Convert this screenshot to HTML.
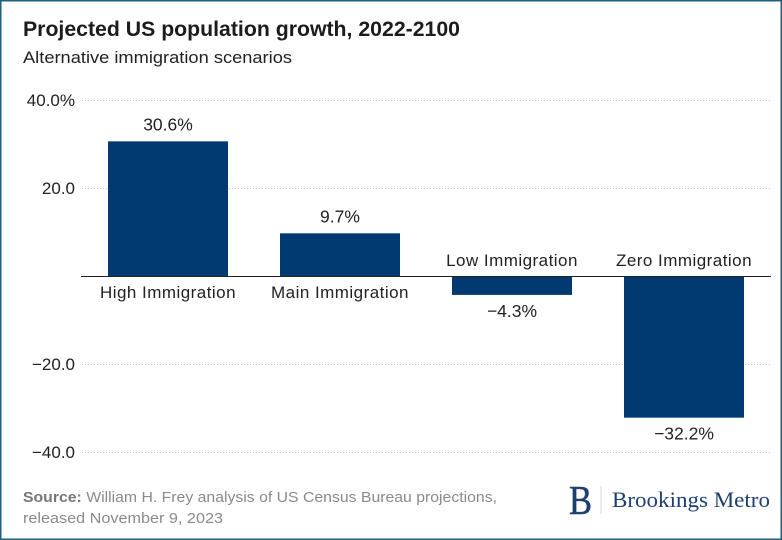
<!DOCTYPE html>
<html lang="en">
<head>
<meta charset="utf-8">
<title>Projected US population growth, 2022-2100</title>
<style>
html,body{margin:0;padding:0;background:#fff}
svg{display:block}
text{font-family:"Liberation Sans",sans-serif}
</style>
</head>
<body>
<svg id="chart" xmlns="http://www.w3.org/2000/svg" width="782" height="540" viewBox="0 0 782 540">
  <rect x="0.75" y="0.75" width="780.5" height="538.5" fill="#fff" stroke="#1f6080" stroke-width="1.5"/>
  <text x="23" y="36" font-size="21" font-weight="700" fill="#1c1c1c" textLength="437" lengthAdjust="spacingAndGlyphs">Projected US population growth, 2022-2100</text>
  <text x="23" y="63" font-size="17" fill="#222" textLength="269" lengthAdjust="spacingAndGlyphs">Alternative immigration scenarios</text>
  <g id="grid"></g>
  <g id="bars"></g>
  <line x1="81" x2="771" y1="276.5" y2="276.5" stroke="#222" stroke-width="1"/>
  <g id="labels"></g>
  <text x="23" y="502" font-size="15" fill="#8a8a8a" textLength="474" lengthAdjust="spacingAndGlyphs"><tspan font-weight="700" fill="#777">Source:</tspan> William H. Frey analysis of US Census Bureau projections,</text>
  <text x="23" y="523" font-size="15" fill="#8a8a8a" textLength="200" lengthAdjust="spacingAndGlyphs">released November 9, 2023</text>
  <text x="569" y="514" font-size="41" fill="#1e3f70" stroke="#1e3f70" stroke-width="0.5" style="font-family:'Liberation Serif',serif" textLength="23" lengthAdjust="spacingAndGlyphs">B</text>
  <line x1="601" x2="601" y1="486" y2="514" stroke="#cfd6e0" stroke-width="1"/>
  <text x="612" y="507" font-size="22" fill="#1e3f70" style="font-family:'Liberation Serif',serif" textLength="158" lengthAdjust="spacingAndGlyphs">Brookings Metro</text>
</svg>
<script>
var categories = ["High Immigration", "Main Immigration", "Low Immigration", "Zero Immigration"];
var seriesValues = [30.6, 9.7, -4.3, -32.2];
var valueLabels = ["30.6%", "9.7%", "\u22124.3%", "\u221232.2%"];
var tickValues = [40, 20, -20, -40];
var tickLabels = ["40.0%", "20.0", "\u221220.0", "\u221240.0"];

var NS = "http://www.w3.org/2000/svg";
function yScale(v) { return 276 - v * 4.4; }
function xScale(i) { return 108 + i * 172; }
var BAR_W = 120;

function makeText(str, x, y, anchor, size) {
  var t = document.createElementNS(NS, "text");
  t.setAttribute("x", x);
  t.setAttribute("y", y);
  t.setAttribute("text-anchor", anchor);
  t.setAttribute("font-size", size);
  t.setAttribute("fill", "#222");
  t.textContent = str;
  return t;
}

var grid = document.getElementById("grid");
var bars = document.getElementById("bars");
var labels = document.getElementById("labels");

tickValues.forEach(function (v, i) {
  var y = yScale(v);
  var line = document.createElementNS(NS, "line");
  
  
  line.setAttribute("x1", 82);
  line.setAttribute("x2", 771);
  line.setAttribute("y1", y + 0.5);
  line.setAttribute("y2", y + 0.5);
  line.setAttribute("stroke", "#c4c4c4");
  line.setAttribute("stroke-width", "1");
  line.setAttribute("stroke-dasharray", "1 2");
  grid.appendChild(line);

  var t = makeText(tickLabels[i], 75, y + 6, "end", "17");
  
  
  grid.appendChild(t);
});

categories.forEach(function (c, i) {
  var v = seriesValues[i];
  var x = xScale(i);
  var top = Math.min(yScale(v), yScale(0));
  var h = Math.abs(yScale(v) - yScale(0));
  var r = document.createElementNS(NS, "rect");
  
  
  r.setAttribute("x", x);
  r.setAttribute("y", top);
  r.setAttribute("width", BAR_W);
  r.setAttribute("height", h);
  r.setAttribute("fill", "#003a70");
  bars.appendChild(r);

  var cx = x + BAR_W / 2;
  var catY = v >= 0 ? yScale(0) + 22 : yScale(0) - 10;
  var valY = v >= 0 ? yScale(v) - 11 : yScale(v) + 22;

  var ct = makeText(c, cx, catY, "middle", "17");
  
  
  ct.setAttribute("letter-spacing", "0.47");
  labels.appendChild(ct);

  var vt = makeText(valueLabels[i], cx, valY, "middle", "17.5");
  
  
  labels.appendChild(vt);
});
</script>
</body>
</html>
